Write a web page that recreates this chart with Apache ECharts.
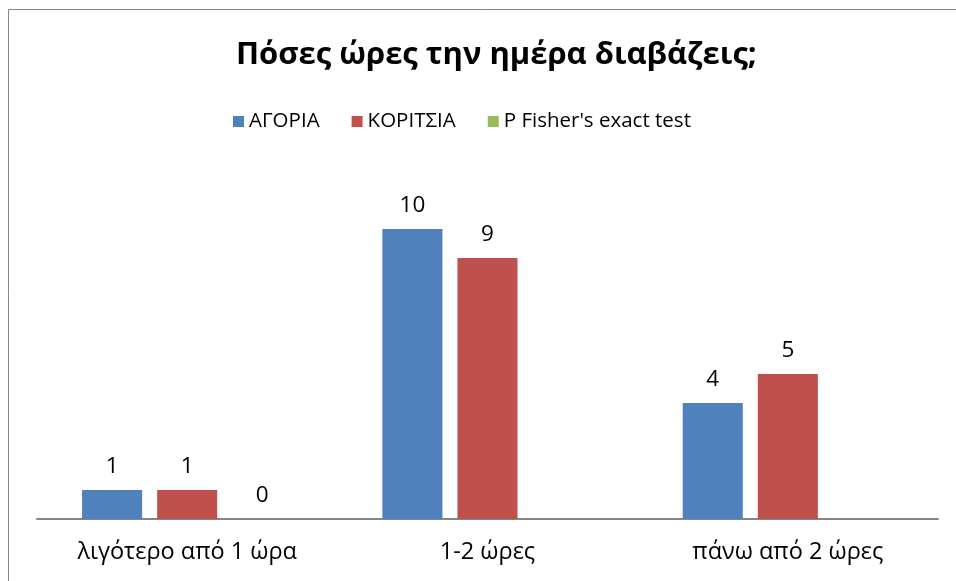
<!DOCTYPE html>
<html><head><meta charset="utf-8">
<script src="https://cdn.jsdelivr.net/npm/echarts@6/dist/echarts.min.js"></script>
<style>html,body{margin:0;padding:0;background:#fff}#c{width:956px;height:581px}</style>
</head><body><div id="c"></div>
<script>
const titleText = "Πόσες ώρες την ημέρα διαβάζεις;";
const categories = ["λιγότερο από 1 ώρα", "1-2 ώρες", "πάνω από 2 ώρες"];
const seriesNames = ["ΑΓΟΡΙΑ", "ΚΟΡΙΤΣΙΑ", "P Fisher's exact test"];
const boys = [1, 10, 4];
const girls = [1, 9, 5];
const fisher = [0, null, null];
const colors = ["#4F81BD", "#C0504D", "#9BBB59"];

const FONT = "Open Sans";
const chart = echarts.init(document.getElementById('c'), null, {renderer: 'canvas'});
const lbl = {show: true, position: 'top', distance: 12, color: '#000', fontSize: 22.5, fontFamily: FONT};
chart.setOption({
  animation: false,
  textStyle: {fontFamily: FONT},
  graphic: [{type: 'rect', shape: {x: 8.5, y: 9.5, width: 2000, height: 2000}, style: {fill: 'none', stroke: '#868686', lineWidth: 1}, silent: true}],
  title: {text: titleText, left: 231, top: 35, textStyle: {fontSize: 31, fontWeight: 'bold', color: '#000', fontFamily: FONT}},
  legend: {top: 106, left: 228, itemWidth: 11, itemHeight: 11, itemGap: 32, icon: 'rect',
    textStyle: {fontSize: 20.5, color: '#000', fontFamily: FONT}, data: seriesNames},
  grid: {left: 37, right: 18, top: 171, bottom: 62, containLabel: false},
  xAxis: {type: 'category', data: categories,
    axisLine: {lineStyle: {color: '#868686', width: 2}}, axisTick: {show: false},
    axisLabel: {fontSize: 23.5, color: '#000', margin: 21, fontFamily: FONT}},
  yAxis: {type: 'value', min: 0, max: 12, interval: 2, show: false, splitLine: {show: false}},
  series: [
    {name: seriesNames[0], type: 'bar', data: boys, barWidth: '20%', barGap: '25%', itemStyle: {color: colors[0]}, label: lbl},
    {name: seriesNames[1], type: 'bar', data: girls, barWidth: '20%', barGap: '25%', itemStyle: {color: colors[1]}, label: lbl},
    {name: seriesNames[2], type: 'bar', data: fisher, barWidth: '20%', barGap: '25%', itemStyle: {color: colors[2]}, label: lbl}
  ]
});
</script></body></html>
